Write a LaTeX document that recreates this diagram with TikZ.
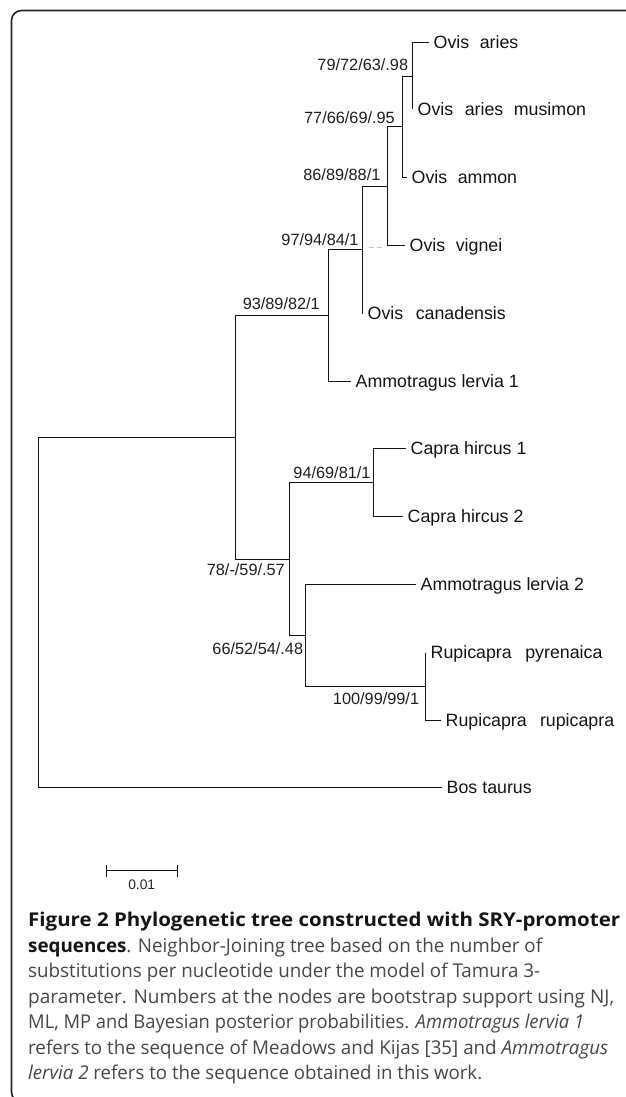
\documentclass[tikz,border=0pt]{standalone}
\usepackage{fontspec}
\usepackage{graphicx}
\setmainfont{Liberation Sans}
\newfontfamily\capfont{Open Sans}
\usetikzlibrary{calc}
\newsavebox\capbox
\newlength\caplen
\newcommand\fitline[2]{\sbox\capbox{#2}\setlength\caplen{\wd\capbox}\pgfmathsetmacro\capratio{#1/\caplen}\scalebox{\capratio}[1]{\usebox\capbox}}
\newcommand\wsp[1]{\hspace{#1pt}}
\begin{document}
\begin{tikzpicture}[x=1pt,y=-1pt,
  br/.style={line width=1.05pt, black!92},
  leaf/.style={anchor=west, inner xsep=5pt, inner ysep=0pt, text height=12.7pt, text depth=0pt, font=\fontsize{17.8}{20}\selectfont, text=black!92},
  sup/.style={anchor=base east, inner sep=0pt, font=\fontsize{16.3}{18}\selectfont, text=black!88},
  capl/.style={anchor=base west, inner sep=0pt, font=\capfont\fontsize{19}{23}\selectfont, text=black!72},
  frame/.style={line width=1.6pt, black!85, rounded corners=10pt},
  faint/.style={black!22, line width=0.8pt, dash pattern=on 5pt off 3pt}]
\useasboundingbox (0,0) rectangle (625,1097);
\draw[frame] (640,10.5) -- (11.5,10.5) -- (11.5,1102) -- (40,1102);

% leaves
\node[leaf] (oaries) at (428.5,42.5) {Ovis\wsp{10.5}aries};
\node[leaf] (omus) at (412.5,109.5) {Ovis\wsp{11.5}aries\wsp{10.5}musimon};
\node[leaf] (oammon) at (406.5,177.5) {Ovis\wsp{10.5}ammon};
\node[leaf] (ovig) at (404.5,245.5) {Ovis\wsp{10.5}vignei};
\node[leaf] (ocan) at (362.5,313.5) {Ovis\wsp{12.5}canadensis};
\node[leaf] (aml1) at (350.5,381.5) {Ammotragus lervia 1};
\node[leaf] (cap1) at (405.5,448.5) {Capra hircus 1};
\node[leaf] (cap2) at (402.5,516.5) {Capra hircus 2};
\node[leaf] (aml2) at (415.5,584.5) {Ammotragus lervia 2};
\node[leaf] (rpyr) at (425.5,652.5) {Rupicapra\wsp{13.5}pyrenaica};
\node[leaf] (rrup) at (440.5,720.5) {Rupicapra\wsp{13.2}rupicapra};
\node[leaf] (bos) at (441.5,787.5) {Bos taurus};

% internal nodes
\coordinate (F) at (412.5,76.5);
\coordinate (E) at (402.5,126.5);
\coordinate (D) at (387.5,186.5);
\coordinate (C) at (362.5,249.5);
\coordinate (B) at (328.5,315.5);
\coordinate (A) at (235.5,437.5);
\coordinate (H) at (373.5,482.5);
\coordinate (J) at (425.5,686.5);
\coordinate (I) at (305.5,635.5);
\coordinate (G) at (289.5,559.5);
\coordinate (R) at (38.5,612.5);

% branches
\draw[br] (R) |- (A);
\draw[br] (R) |- (bos.west);
\draw[br] (A) |- (B);
\draw[br] (A) |- (G);
\draw[br] (B) |- (C);
\draw[br] (B) |- (aml1.west);
\draw[br] (C) |- (D);
\draw[br] (C) |- (ocan.west);
\draw[br] (D) |- (E);
\draw[br] (D) |- (ovig.west);
\draw[br] (E) |- (F);
\draw[br] (E) |- (oammon.west);
\draw[br] (F) |- (oaries.west);
\draw[br] (F) |- (omus.west);
\draw[br] (G) |- (H);
\draw[br] (G) |- (I);
\draw[br] (H) |- (cap1.west);
\draw[br] (H) |- (cap2.west);
\draw[br] (I) |- (aml2.west);
\draw[br] (I) |- (J);
\draw[br] (J) |- (rpyr.west);
\draw[br] (J) |- (rrup.west);
\draw[faint] (369,247.5) -- (383,247.5);

% support values
\node[sup] (s1) at (408.3,70.9) {79/72/63/.98};
\node[sup] (s2) at (395,123.2) {77/66/69/.95};
\node[sup] (s3) at (380.6,180.9) {86/89/88/1};
\node[sup] (s4) at (358.7,245.2) {97/94/84/1};
\node[sup] (s5) at (320,309.9) {93/89/82/1};
\node[sup] (s6) at (370.7,478.6) {94/69/81/1};
\node[sup] (s7) at (285,575.9) {78/-/59/.57};
\node[sup] (s8) at (303.3,654.2) {66/52/54/.48};
\node[sup] (s9) at (419.3,704.2) {100/99/99/1};

% scale bar
\coordinate (sb1) at (106.5,870.5);
\coordinate (sb2) at (177.5,870.5);
\draw[br] (sb1) -- (sb2);
\draw[br] ($(sb1)+(0,-6)$) -- ($(sb1)+(0,6)$);
\draw[br] ($(sb2)+(0,-6)$) -- ($(sb2)+(0,6)$);
\node[anchor=base, inner sep=0pt, font=\fontsize{13.8}{16}\selectfont, text=black!85] (sbl) at (141.7,889.9) {0.01};

% caption
\node[capl] (c1) at (28,926.5) {\fitline{592}{\color{black!92}\bfseries Figure 2 Phylogenetic tree constructed with SRY-promoter}};
\node[capl] (c2) at (28,952) {\fitline{514}{{\color{black!92}\bfseries sequences}. Neighbor-Joining tree based on the number of}};
\node[capl] (c3) at (28,977.5) {\fitline{512}{substitutions per nucleotide under the model of Tamura 3-}};
\node[capl] (c4) at (28,1003) {\fitline{586}{parameter. Numbers at the nodes are bootstrap support using NJ,}};
\node[capl] (c5) at (28,1028.5) {\fitline{556}{ML, MP and Bayesian posterior probabilities. \textit{Ammotragus lervia 1}}};
\node[capl] (c6) at (28,1054) {\fitline{580}{refers to the sequence of Meadows and Kijas [35] and \textit{Ammotragus}}};
\node[capl] (c7) at (28,1079.5) {\fitline{454}{\textit{lervia 2} refers to the sequence obtained in this work.}};
\end{tikzpicture}
\end{document}
